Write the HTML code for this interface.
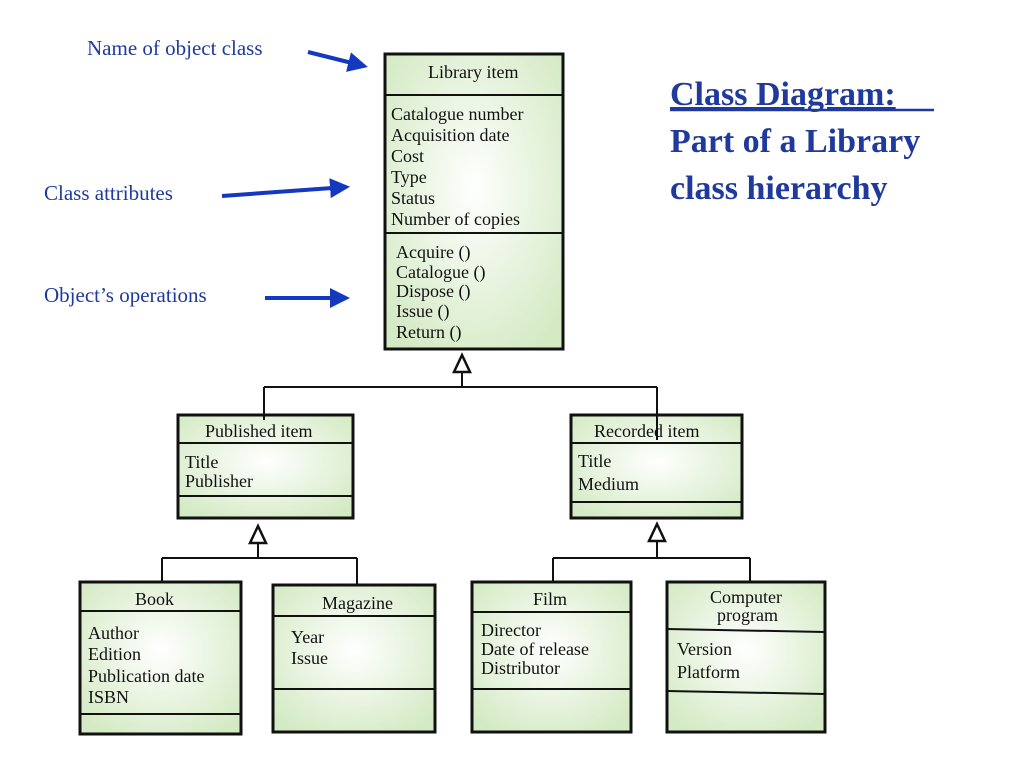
<!DOCTYPE html>
<html><head><meta charset="utf-8"><style>
html,body{margin:0;padding:0;background:#fff;}
svg{display:block;}
text{font-family:"Liberation Serif",serif;}
.t{font-size:18px;fill:#111;}
.a{font-size:21px;fill:#1f3a9c;}
.h{font-size:34px;font-weight:bold;fill:#1f3a9c;}
.b{fill:url(#g);stroke:#111;stroke-width:3;}
.d{stroke:#111;stroke-width:2;}
.l{stroke:#111;stroke-width:2;fill:none;}
.tri{fill:#fff;stroke:#111;stroke-width:2.5;}
.ar{stroke:#1438c0;stroke-width:4;}
</style></head><body>
<svg width="1024" height="768" viewBox="0 0 1024 768">
<defs>
<radialGradient id="g" cx="50%" cy="45%" r="65%">
<stop offset="0" stop-color="#ffffff"/><stop offset="1" stop-color="#d4eac4"/>
</radialGradient>
<marker id="m" markerWidth="6" markerHeight="6" refX="4" refY="3" orient="auto" markerUnits="strokeWidth">
<path d="M0,0.5 L5,3 L0,5.5 z" fill="#1438c0"/></marker>
</defs>

<!-- annotations -->
<text class="a" x="87" y="55">Name of object class</text>
<text class="a" x="44" y="200">Class attributes</text>
<text class="a" x="44" y="302">Object’s operations</text>
<line class="ar" x1="308" y1="52" x2="364" y2="66" marker-end="url(#m)"/>
<line class="ar" x1="222" y1="196" x2="346" y2="187" marker-end="url(#m)"/>
<line class="ar" x1="265" y1="298" x2="346" y2="298" marker-end="url(#m)"/>

<text class="h" x="670" y="105" text-decoration="underline">Class Diagram:</text>
<line x1="670" y1="110" x2="934" y2="110" stroke="#1f3a9c" stroke-width="2.5"/>
<text class="h" x="670" y="152">Part of a Library</text>
<text class="h" x="670" y="199">class hierarchy</text>

<!-- connectors -->
<path class="l" d="M462 372 V387 M264 387 H657 M264 387 V420 M657 387 V440"/>
<polygon class="tri" points="462,355 454,372 470,372"/>
<path class="l" d="M258 543 V558 M162 558 H357 M162 558 V582 M357 558 V585"/>
<polygon class="tri" points="258,526 250,543 266,543"/>
<path class="l" d="M657 541 V558 M553 558 H750 M553 558 V582 M750 558 V582"/>
<polygon class="tri" points="657,524 649,541 665,541"/>

<!-- Library item -->
<rect class="b" x="385" y="54" width="178" height="295"/>
<line class="d" x1="385" y1="95" x2="563" y2="95"/>
<line class="d" x1="385" y1="233" x2="563" y2="233"/>
<text class="t" x="428" y="78">Library item</text>
<text class="t" x="391" y="120">Catalogue number</text>
<text class="t" x="391" y="141">Acquisition date</text>
<text class="t" x="391" y="162">Cost</text>
<text class="t" x="391" y="183">Type</text>
<text class="t" x="391" y="204">Status</text>
<text class="t" x="391" y="225">Number of copies</text>
<text class="t" x="396" y="258">Acquire ()</text>
<text class="t" x="396" y="278">Catalogue ()</text>
<text class="t" x="396" y="297">Dispose ()</text>
<text class="t" x="396" y="317">Issue ()</text>
<text class="t" x="396" y="338">Return ()</text>

<!-- Published item -->
<rect class="b" x="178" y="415" width="175" height="103"/>
<line class="d" x1="178" y1="443" x2="353" y2="443"/>
<line class="d" x1="178" y1="496" x2="353" y2="496"/>
<text class="t" x="205" y="437">Published item</text>
<text class="t" x="185" y="468">Title</text>
<text class="t" x="185" y="487">Publisher</text>
<line class="l" x1="264" y1="415" x2="264" y2="420"/>

<!-- Recorded item -->
<rect class="b" x="571" y="415" width="171" height="103"/>
<line class="d" x1="571" y1="443" x2="742" y2="443"/>
<line class="d" x1="571" y1="502" x2="742" y2="502"/>
<text class="t" x="594" y="437">Recorded item</text>
<text class="t" x="578" y="467">Title</text>
<text class="t" x="578" y="490">Medium</text>
<line class="l" x1="657" y1="413" x2="657" y2="440"/>

<!-- Book -->
<rect class="b" x="80" y="582" width="161" height="152"/>
<line class="d" x1="80" y1="611" x2="241" y2="611"/>
<line class="d" x1="80" y1="714" x2="241" y2="714"/>
<text class="t" x="135" y="605">Book</text>
<text class="t" x="88" y="639">Author</text>
<text class="t" x="88" y="660">Edition</text>
<text class="t" x="88" y="682">Publication date</text>
<text class="t" x="88" y="703">ISBN</text>

<!-- Magazine -->
<rect class="b" x="273" y="585" width="162" height="147"/>
<line class="d" x1="273" y1="616" x2="435" y2="616"/>
<line class="d" x1="273" y1="689" x2="435" y2="689"/>
<text class="t" x="322" y="609">Magazine</text>
<text class="t" x="291" y="643">Year</text>
<text class="t" x="291" y="664">Issue</text>

<!-- Film -->
<rect class="b" x="472" y="582" width="159" height="150"/>
<line class="d" x1="472" y1="612" x2="631" y2="612"/>
<line class="d" x1="472" y1="689" x2="631" y2="689"/>
<text class="t" x="533" y="605">Film</text>
<text class="t" x="481" y="636">Director</text>
<text class="t" x="481" y="655">Date of release</text>
<text class="t" x="481" y="674">Distributor</text>

<!-- Computer program -->
<rect class="b" x="667" y="582" width="158" height="150"/>
<line class="d" x1="667" y1="629" x2="825" y2="632"/>
<line class="d" x1="667" y1="691" x2="825" y2="694"/>
<text class="t" x="710" y="603">Computer</text>
<text class="t" x="717" y="621">program</text>
<text class="t" x="677" y="655">Version</text>
<text class="t" x="677" y="678">Platform</text>
</svg>
</body></html>
